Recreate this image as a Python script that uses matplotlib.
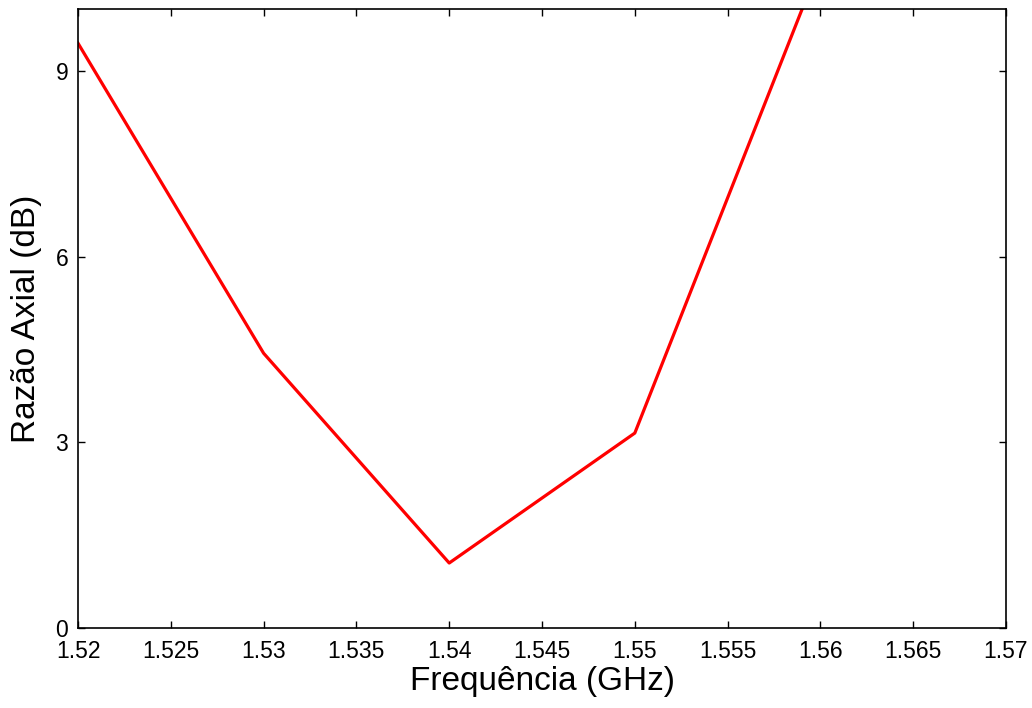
import numpy as np
import matplotlib
matplotlib.use('Agg')
import matplotlib.pyplot as plt

plt.rcParams['font.family'] = ['Liberation Sans', 'DejaVu Sans']

# frequency (GHz) vs axial ratio (dB)
freq = [1.52, 1.53, 1.54, 1.55, 1.56]
axial_ratio = [9.45, 4.44, 1.05, 3.15, 10.75]

xticks = [1.52, 1.525, 1.53, 1.535, 1.54, 1.545, 1.55, 1.555, 1.56, 1.565, 1.57]
xtick_labels = ['1.52', '1.525', '1.53', '1.535', '1.54', '1.545', '1.55',
                '1.555', '1.56', '1.565', '1.57']
yticks = [0, 3, 6, 9]

fig = plt.figure(figsize=(10.32, 7.08), dpi=100)
ax = fig.add_axes([0.0756, 0.113, 0.8992, 0.874])

ax.plot(freq, axial_ratio, color='red', lw=2.3)

ax.set_xlim(1.52, 1.57)
ax.set_ylim(0, 10)
ax.set_xticks(xticks)
ax.set_xticklabels(xtick_labels)
ax.set_yticks(yticks)
ax.tick_params(direction='in', top=True, right=True, length=5, width=1,
               labelsize=16.5)
ax.tick_params(axis='x', pad=9)
ax.tick_params(axis='y', pad=7)
for s in ax.spines.values():
    s.set_linewidth(1.2)

ax.set_xlabel('Frequência (GHz)', fontsize=24, labelpad=2)
ax.set_ylabel('Razão Axial (dB)', fontsize=24, labelpad=10)

fig.savefig('out.png', dpi=100)
